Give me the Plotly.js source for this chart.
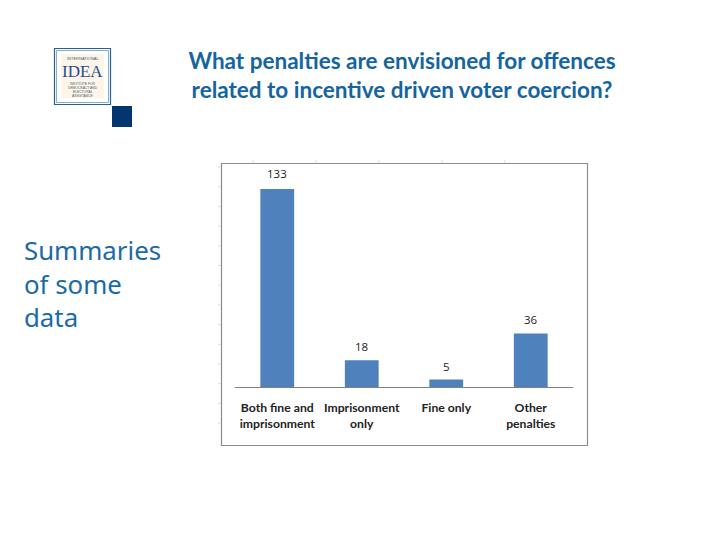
<!DOCTYPE html>
<html>
<head>
<meta charset="utf-8">
<script src="https://cdn.plot.ly/plotly-3.0.1.min.js"></script>
<style>html,body{margin:0;padding:0;background:#fff}</style>
</head>
<body>
<div id="chart" style="width:720px;height:540px"></div>
<script>
const categories = ["Both fine and<br>imprisonment", "Imprisonment<br>only", "Fine only", "Other<br>penalties"];
const counts = [133, 18, 5, 36];
const chartTitle = "What penalties are envisioned for offences<br>related to incentive driven voter coercion?";
const sideNote = "Summaries<br>of some<br>data";
const yMax = 145.7;

// Pixel helpers for page furniture (frame and logo), not for data marks
const W = 720, H = 540, L = 235, R = 147, T = 170, B = 153;
const px = x => (x - L) / (W - L - R);
const py = y => 1 - (y - T) / (H - T - B);
const box = (x0, y0, x1, y1, fill, line, w) => ({
  type: "rect", xref: "paper", yref: "paper", layer: "below",
  x0: px(x0), x1: px(x1), y0: py(y1), y1: py(y0),
  fillcolor: fill, line: {color: line, width: w}
});
const seg = (x0, y0, x1, y1) => ({
  type: "line", xref: "paper", yref: "paper", layer: "below",
  x0: px(x0), x1: px(x1), y0: py(y0), y1: py(y1),
  line: {color: "#dddddd", width: 1}
});

const shapes = [
  box(221.5, 163.5, 587.5, 445.5, "#ffffff", "#8c8c8c", 1.2),
  box(54.5, 48.5, 110.5, 104.5, "#ffffff", "#2a5f8f", 1.2),
  box(56.5, 50.5, 108.5, 102.5, "#ffffff", "#7fb0d6", 1),
  box(61, 54, 104, 98, "#fdf5ea", "rgba(0,0,0,0)", 0),
  box(112, 106, 132, 127, "#03356e", "rgba(0,0,0,0)", 0)
];
[0,1,2,3,4,5,6,7,8,9,10,11,12,13].forEach(i => shapes.push(seg(218, 167 + i * 19.7, 221, 167 + i * 19.7)));
[0,1,2,3,4].forEach(i => shapes.push(seg(253 + i * 63, 160, 253 + i * 63, 163)));

const logoText = (text, x, y, size, family, color) => ({
  text, xref: "paper", yref: "paper", x: px(x), y: py(y), showarrow: false,
  xanchor: "center", yanchor: "middle", borderpad: 0,
  font: {family, size, color}
});

const trace = {
  type: "bar",
  x: categories,
  y: counts,
  marker: {color: "#4f81bd"},
  hoverinfo: "skip"
};

const valueLabels = counts.map((v, i) => ({
  text: String(v), x: categories[i], y: v, xref: "x", yref: "y",
  showarrow: false, xanchor: "center", yanchor: "bottom", yshift: i === 0 ? 6 : 4,
  font: {family: "Open Sans, sans-serif", size: 11.5, color: "#222222"}
}));

const layout = {
  width: W, height: H,
  paper_bgcolor: "#ffffff", plot_bgcolor: "rgba(0,0,0,0)",
  margin: {l: L, r: R, t: T, b: B, pad: 0},
  showlegend: false,
  bargap: 0.6,
  title: {
    text: chartTitle, x: 402 / W, xanchor: "center", xref: "container",
    y: 1 - 69 / H, yanchor: "middle",
    font: {family: "Lato, sans-serif", size: 22.5, weight: 700, color: "#14649f"}
  },
  xaxis: {
    type: "category", showgrid: false, zeroline: false,
    showline: true, linecolor: "#808080", linewidth: 1,
    ticks: "", ticklabelstandoff: 9,
    tickfont: {family: "Lato, sans-serif", size: 12.2, weight: 700, color: "#222222"}
  },
  yaxis: {
    range: [0, yMax], visible: false, showgrid: false, zeroline: false
  },
  shapes,
  annotations: valueLabels.concat([
    {
      text: sideNote, xref: "paper", yref: "paper", x: px(22.5), y: py(283),
      xanchor: "left", yanchor: "middle", align: "left", showarrow: false,
      font: {family: "Noto Sans, sans-serif", size: 25.8, color: "#1a6aa6"}
    },
    logoText("INTERNATIONAL", 82.5, 59, 4, "Liberation Sans, sans-serif", "#4a5a6a"),
    logoText("IDEA", 82.5, 71, 17, "Liberation Serif, serif", "#1f4e8c"),
    logoText("INSTITUTE FOR", 82.5, 83.5, 3.3, "Liberation Sans, sans-serif", "#4a5a6a"),
    logoText("DEMOCRACY AND", 82.5, 88, 3.3, "Liberation Sans, sans-serif", "#4a5a6a"),
    logoText("ELECTORAL", 82.5, 92, 3.3, "Liberation Sans, sans-serif", "#4a5a6a"),
    logoText("ASSISTANCE", 82.5, 96, 3.3, "Liberation Sans, sans-serif", "#4a5a6a")
  ])
};

Plotly.newPlot("chart", [trace], layout, {displayModeBar: false, staticPlot: true});
</script>
</body>
</html>
